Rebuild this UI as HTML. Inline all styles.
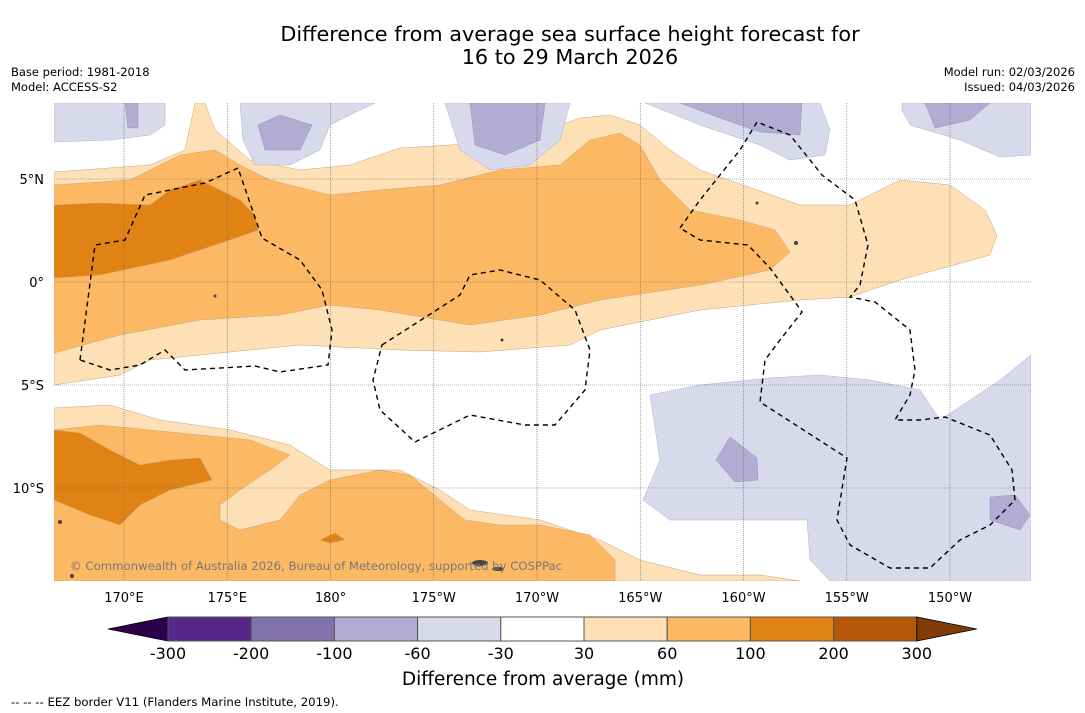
<!DOCTYPE html>
<html><head><meta charset="utf-8"><style>
body{margin:0;background:#fff;font-family:"DejaVu Sans","Liberation Sans",sans-serif;}
svg{display:block}
</style></head><body>
<svg id="s" width="1085" height="713" viewBox="0 0 1085 713" xmlns="http://www.w3.org/2000/svg">
<rect width="1085" height="713" fill="#fff"/>
<text x="570" y="41" font-size="20.8" text-anchor="middle">Difference from average sea surface height forecast for</text>
<text x="570" y="64" font-size="20.8" text-anchor="middle">16 to 29 March 2026</text>
<text x="11" y="76" font-size="11.5">Base period: 1981-2018</text>
<text x="11" y="91" font-size="11.5">Model: ACCESS-S2</text>
<text x="1075" y="76" font-size="11.5" text-anchor="end">Model run: 02/03/2026</text>
<text x="1075" y="91" font-size="11.5" text-anchor="end">Issued: 04/03/2026</text>
<defs><clipPath id="mc"><rect x="54" y="103" width="977" height="478"/></clipPath></defs>
<g clip-path="url(#mc)">
<rect x="54" y="103" width="977" height="478" fill="#fff"/>
<g stroke="#c9a27a" stroke-width="0.5">
<path fill="#fee0b6" d="M54,172 L150,165 185,150 195,103 205,103 215,130 250,160 300,170 350,165 400,148 450,145 520,140 580,118 610,115 640,125 670,150 700,170 800,205 850,205 900,180 950,185 985,210 997,235 990,255 900,280 850,297 800,300 700,310 600,330 570,345 480,352 400,350 300,345 200,355 150,360 120,375 54,385Z"/>
<path fill="#fdb863" d="M54,185 L130,180 180,155 215,150 240,165 270,180 330,195 380,190 440,185 500,170 560,165 590,140 620,133 640,145 660,180 690,210 740,220 775,230 790,252 770,270 700,285 600,300 540,315 470,325 380,310 330,305 280,315 200,320 120,335 54,353Z"/>
<path fill="#e08214" d="M54,205 L100,203 150,205 170,190 200,180 240,200 255,215 258,230 230,240 170,260 100,275 54,278Z"/>
<path fill="#fee0b6" d="M54,408 L110,405 160,420 230,430 290,445 330,470 400,470 440,490 470,510 540,520 600,540 640,560 700,575 760,575 800,581 54,581Z"/>
<path fill="#fdb863" d="M54,430 L100,425 150,430 200,435 250,440 290,455 270,470 240,490 220,505 220,520 240,530 280,520 300,495 330,480 380,470 410,475 440,500 465,520 500,525 540,525 590,535 615,560 615,581 54,581Z"/>
<path fill="#e08214" d="M54,430 L80,433 110,450 140,465 170,460 200,458 212,480 170,490 140,505 120,525 90,515 54,500Z"/>
<path fill="#e08214" d="M320,540 L335,533 345,540 330,543Z"/>
</g>
<g fill="#d8daeb" stroke="#b0aed0" stroke-width="0.5">
<path d="M54,103 L165,103 165,125 150,135 110,140 54,142Z"/>
<path d="M240,103 L375,103 360,110 330,125 320,150 290,165 255,165 243,140Z"/>
<path d="M445,103 L570,103 560,140 530,165 490,170 460,150Z"/>
<path d="M645,103 L820,103 830,130 825,155 790,160 760,145 700,125Z"/>
<path d="M902,103 L1031,103 1031,155 1000,157 960,140 910,125 902,110Z"/>
<path d="M650,395 L700,385 770,378 820,375 870,380 920,390 940,420 1000,380 1031,355 1031,581 830,581 810,560 807,520 720,520 670,520 643,500 660,460Z"/>
</g>
<g fill="#b2abd2" stroke="#9890c0" stroke-width="0.5">
<path d="M125,103 L138,103 138,128 128,128Z"/>
<path d="M258,125 L280,115 312,125 300,150 265,150Z"/>
<path d="M470,103 L545,103 540,140 505,155 475,145Z"/>
<path d="M680,103 L802,103 800,135 760,132 720,118Z"/>
<path d="M925,103 L990,103 970,120 935,128Z"/>
<path d="M730,437 L757,458 758,480 735,482 716,460Z"/>
<path d="M990,497 L1015,495 1030,515 1020,530 990,520Z"/>
</g>
<g id="grid" stroke="#666" stroke-width="0.6" stroke-dasharray="1,1"></g>
<g fill="none" stroke="#000" stroke-width="1.4" stroke-dasharray="5,4">
<path d="M80,360 L95,245 125,240 145,195 205,183 238,168 262,238 300,260 322,290 332,330 328,365 280,372 255,366 185,370 165,350 140,365 110,370 80,360"/>
<path d="M382,345 L460,295 470,275 500,270 540,280 575,310 590,350 585,390 555,425 525,425 470,415 415,442 380,410 373,380 382,345Z"/>
<path d="M680,228 L700,200 720,175 740,150 757,122 790,135 822,175 855,200 868,245 860,285 850,297 875,302 910,330 915,370 910,395 895,420 920,420 945,417 990,435 1012,470 1015,500 990,525 960,540 930,568 890,568 850,545 837,520 847,458 760,402 765,360 780,340 802,312 795,302 770,268 748,245 700,240 680,228"/>
</g>
<g fill="#444">
<ellipse cx="480" cy="563" rx="8" ry="3"/><ellipse cx="498" cy="569" rx="6" ry="2"/><circle cx="72" cy="576" r="2"/><circle cx="60" cy="522" r="2"/><circle cx="215" cy="296" r="1.5"/><circle cx="502" cy="340" r="1.5"/><circle cx="757" cy="203" r="1.5"/><circle cx="796" cy="243" r="2"/>
</g>
<text x="70" y="570" font-size="11.7" fill="#777">© Commonwealth of Australia 2026, Bureau of Meteorology, supported by COSPPac</text>
</g>
<g id="axes" font-size="13"></g>
<g id="cbar"></g>
<text x="543" y="685" font-size="18.5" text-anchor="middle">Difference from average (mm)</text>
<text x="11" y="706" font-size="11.7">--  --  -- EEZ border V11 (Flanders Marine Institute, 2019).</text>
</svg>
<script>
const lonTicks=[170,175,180,185,190,195,200,205,210];
const lonLabels=["170°E","175°E","180°","175°W","170°W","165°W","160°W","155°W","150°W"];
const latTicks=[5,0,-5,-10];
const latLabels=["5°N","0°","5°S","10°S"];
const levels=["-300","-200","-100","-60","-30","30","60","100","200","300"];
const binColors=["#542788","#8073ac","#b2abd2","#d8daeb","#ffffff","#fee0b6","#fdb863","#e08214","#b35806"];
const underColor="#2d004b", overColor="#7f3b08";
const NS="http://www.w3.org/2000/svg";
const X=lon=>124+(lon-170)*20.65, Y=lat=>282-lat*20.6;
function mk(t,a,p){const e=document.createElementNS(NS,t);for(const k in a)e.setAttribute(k,a[k]);p.appendChild(e);return e;}
const grid=document.getElementById('grid'),axes=document.getElementById('axes'),cb=document.getElementById('cbar');
lonTicks.forEach((v,i)=>{
 const l=mk('line',{x1:X(v),x2:X(v),y1:103,y2:581},grid);
 
 
 const t=mk('text',{x:X(v),y:602,'text-anchor':'middle'},axes);t.textContent=lonLabels[i];
 
 
});
latTicks.forEach((v,i)=>{
 const l=mk('line',{x1:54,x2:1031,y1:Y(v),y2:Y(v)},grid);
 
 
 const t=mk('text',{x:44,y:Y(v)+5,'text-anchor':'end'},axes);t.textContent=latLabels[i];
 
 
});
const cx0=168,cw=83.2,cy=617,ch=24;
const under=mk('polygon',{points:`${cx0},${cy} ${cx0},${cy+ch} 108,${cy+ch/2}`,fill:underColor,stroke:'#000','stroke-width':0.8},cb);


binColors.forEach((c,i)=>{
 const r=mk('rect',{x:cx0+i*cw,y:cy,width:cw,height:ch,fill:c,stroke:'#555','stroke-width':1},cb);
 
 
});
const xe=cx0+binColors.length*cw;
const over=mk('polygon',{points:`${xe},${cy} ${xe},${cy+ch} ${xe+60},${cy+ch/2}`,fill:overColor,stroke:'#000','stroke-width':0.8},cb);


levels.forEach((v,i)=>{
 const t=mk('text',{x:cx0+i*cw,y:659,'font-size':16,'text-anchor':'middle'},cb);t.textContent=v;
 
 
});
</script>
</body></html>
